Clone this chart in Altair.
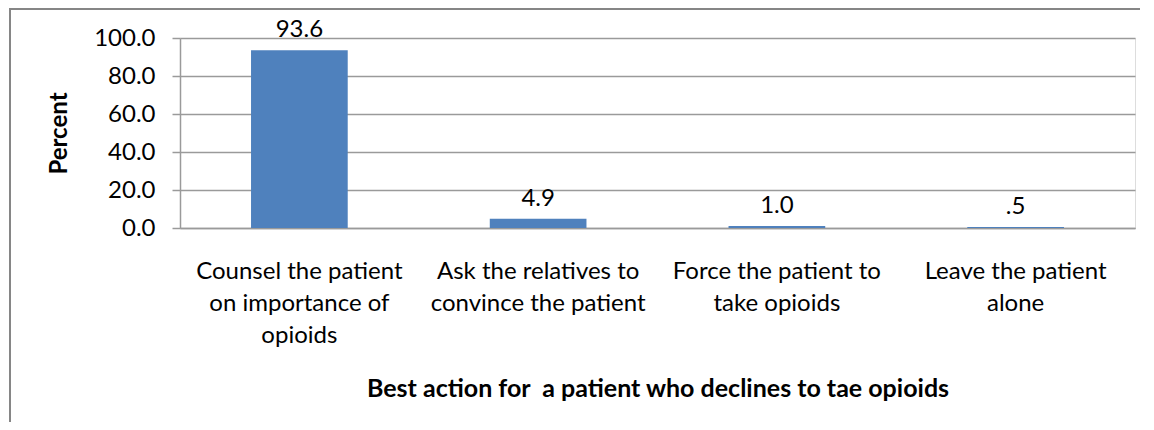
import altair as alt
import pandas as pd

categories = [
    "Counsel the patient|on importance of|opioids",
    "Ask the relatives to|convince the patient",
    "Force the patient to|take opioids",
    "Leave the patient|alone",
]
values = [93.6, 4.9, 1.0, 0.5]
value_labels = ["93.6", "4.9", "1.0", ".5"]
y_ticks = [0, 20, 40, 60, 80, 100]

df = pd.DataFrame({"cat": categories, "pct": values, "lbl": value_labels})

FONT = "Lato"
GRID = "#9a9a9a"
FRAME = "#868686"

x_enc = alt.X(
    "cat:N",
    sort=categories,
    scale=alt.Scale(paddingInner=0.595, paddingOuter=0.2975),
    axis=alt.Axis(
        title="Best action for \u00a0a patient who declines to tae opioids",
        labelExpr="split(datum.label, '|')",
        labelAngle=0,
        labelFont=FONT,
        labelFontSize=24,
        labelLineHeight=32,
        labelColor="#000000",
        labelPadding=31,
        ticks=False,
        domainColor=GRID,
        domainWidth=1.5,
        titleFont=FONT,
        titleFontSize=25,
        titleFontWeight="bold",
        titleColor="#000000",
        titlePadding=29,
        labelLimit=400,
    ),
)

y_enc = alt.Y(
    "pct:Q",
    scale=alt.Scale(domain=[0, 100]),
    axis=alt.Axis(
        title="Percent",
        values=y_ticks,
        format=".1f",
        labelOverlap=False,
        labelFont=FONT,
        labelFontSize=24,
        labelColor="#000000",
        labelPadding=17,
        tickSize=8,
        tickColor=GRID,
        tickWidth=1.5,
        grid=True,
        gridColor=GRID,
        gridWidth=1.5,
        domainColor=GRID,
        domainWidth=1.5,
        titleFont=FONT,
        titleFontSize=24,
        titleFontWeight="bold",
        titleColor="#000000",
        titlePadding=22,
    ),
)

base = alt.Chart(df).encode(x=x_enc, y=y_enc)

bars = base.mark_bar(color="#4F81BD")

text = base.mark_text(
    baseline="bottom", dy=-8, font=FONT, fontSize=24, color="#000000"
).encode(text="lbl:N")

frame_left = alt.Chart(df).mark_rule(color=FRAME, strokeWidth=2).encode(
    x=alt.value(-170), y=alt.value(-30), y2=alt.value(384)
)
frame_top = alt.Chart(df).mark_rule(color=FRAME, strokeWidth=2).encode(
    x=alt.value(-170), x2=alt.value(980), y=alt.value(-29)
)

chart = (
    alt.layer(bars, text, frame_left, frame_top)
    .properties(
        width=955,
        height=190,
        autosize=alt.AutoSizeParams(type="none"),
        padding={"left": 172, "top": 30, "right": 5, "bottom": 194},
    )
    .configure_view(strokeWidth=0, stroke="transparent")
    .configure(background="white")
)

chart.save("out.html", embed_options={"renderer": "svg", "actions": False})
